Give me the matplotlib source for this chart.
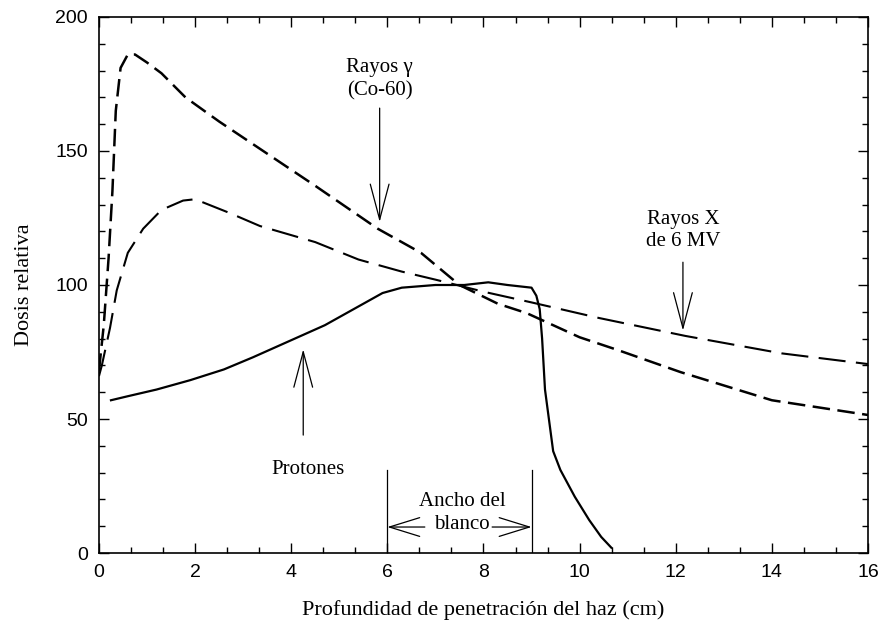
import numpy as np
import matplotlib.pyplot as plt
from matplotlib.ticker import MultipleLocator

# Depth-dose curves (depth in cm, relative dose)
gamma_x = [0, 0.1, 0.2, 0.28, 0.35, 0.45, 0.6, 0.75, 1.0, 1.3, 1.8, 2.5,
           3.5, 4.5, 5.8, 6.7, 7.5, 8.3, 8.9, 10.0, 10.8, 12.1, 14.0, 16.0]
gamma_y = [68, 85, 110, 135, 165, 181, 186, 186, 183, 179, 170, 161,
           149, 137, 121, 112, 100, 93, 89.5, 80.5, 75.7, 67.5, 57, 51.5]

xray_x = [0, 0.06, 0.23, 0.37, 0.6, 0.92, 1.3, 1.75, 2.0, 2.7, 3.35, 4.5,
          5.4, 6.3, 7.0, 8.0, 9.0, 10.4, 12.2, 14.2, 16.0]
xray_y = [66, 70, 84, 98, 112, 121, 128, 131.5, 132, 127, 122, 116,
          109.5, 105, 102, 97.5, 93.5, 87.7, 81, 74.5, 70.5]

proton_x = [0.25, 0.6, 1.2, 1.9, 2.6, 3.2, 3.7, 4.2, 4.7, 5.2, 5.6, 5.9,
            6.3, 7.0, 7.6, 8.1, 8.5, 9.0, 9.1, 9.17, 9.22, 9.28, 9.45, 9.6,
            9.9, 10.2, 10.45, 10.66]
proton_y = [57, 58.5, 61, 64.5, 68.5, 73, 77, 81, 85, 90, 94, 97,
            99, 100, 100, 101, 100, 99, 96, 91, 80, 61, 38, 31,
            21, 12.3, 6, 2]

# Target region limits
target_x = [6, 9]
target_top = 31

serif = ['Liberation Serif', 'DejaVu Serif']
sans = ['Liberation Sans', 'DejaVu Sans']

fig = plt.figure(figsize=(8.82, 6.38), dpi=100)
ax = fig.add_axes([0.1122, 0.1332, 0.8719, 0.8402])

ax.plot(gamma_x, gamma_y, color='black', lw=1.8, ls=(0, (7, 3)))
ax.plot(xray_x, xray_y, color='black', lw=1.5, ls=(0, (13, 5)))
ax.plot(proton_x, proton_y, color='black', lw=1.6)

# Target width markers
for tx in target_x:
    ax.plot([tx, tx], [0, target_top], color='black', lw=0.9)

ax.set_xlim(0, 16)
ax.set_ylim(0, 200)
ax.xaxis.set_major_locator(MultipleLocator(2))
ax.xaxis.set_minor_locator(MultipleLocator(2 / 3))
ax.yaxis.set_major_locator(MultipleLocator(50))
ax.yaxis.set_minor_locator(MultipleLocator(10))
ax.tick_params(which='both', direction='in', top=True, right=True, width=1)
ax.tick_params(which='major', length=7, pad=8, labelsize=14)
ax.tick_params(which='minor', length=4)
for lab in ax.get_xticklabels() + ax.get_yticklabels():
    lab.set_family(sans)
for sp in ax.spines.values():
    sp.set_linewidth(1.2)

ax.set_xlabel('Profundidad de penetración del haz (cm)', family=serif,
              fontsize=16, labelpad=14)
ax.set_ylabel('Dosis relativa', family=serif, fontsize=16, labelpad=15)

fs = 15
ls = 1.25
arrow = dict(arrowstyle='->,head_length=1.7,head_width=0.45', color='black',
             lw=0.9, shrinkA=0, shrinkB=0)

# Rayos gamma label
ax.text(5.84, 169, 'Rayos γ\n(Co-60)', ha='center', va='bottom',
        family=serif, fontsize=fs, linespacing=ls)
ax.annotate('', xy=(5.84, 123.5), xytext=(5.84, 166), arrowprops=arrow,
            fontsize=fs)

# Rayos X label
ax.text(12.15, 112.5, 'Rayos X\nde 6 MV', ha='center', va='bottom',
        family=serif, fontsize=fs, linespacing=ls)
ax.annotate('', xy=(12.15, 83), xytext=(12.15, 108.5), arrowprops=arrow,
            fontsize=fs)

# Protones label
ax.text(4.35, 31, 'Protones', ha='center', va='center', family=serif,
        fontsize=fs)
ax.annotate('', xy=(4.25, 76), xytext=(4.25, 44), arrowprops=arrow,
            fontsize=fs)

# Target width label
ax.text(7.55, 14.8, 'Ancho del\nblanco', ha='center', va='center',
        family=serif, fontsize=fs, linespacing=1.3)
side = dict(arrowstyle='->,head_length=1.45,head_width=0.45', color='black',
            lw=0.9, shrinkA=0, shrinkB=0)
ax.annotate('', xy=(6.0, 9.7), xytext=(6.78, 9.7), arrowprops=side,
            fontsize=fs)
ax.annotate('', xy=(9.0, 9.7), xytext=(8.18, 9.7), arrowprops=side,
            fontsize=fs)

fig.savefig('out.png', dpi=100)
